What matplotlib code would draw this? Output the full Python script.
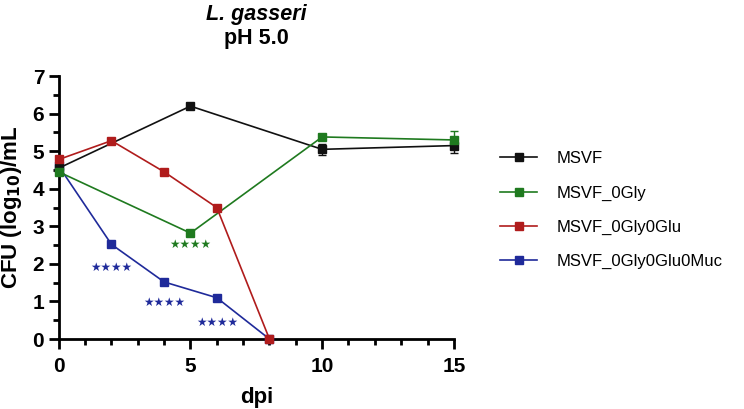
import matplotlib
matplotlib.use("Agg")
import matplotlib.pyplot as plt
from matplotlib.ticker import MultipleLocator
from matplotlib.lines import Line2D

plt.rcParams['font.family'] = ['Liberation Sans', 'DejaVu Sans']

# Data
msvf_x = [0, 5, 10, 15]
msvf_y = [4.55, 6.2, 5.05, 5.15]
msvf_err = [0.0, 0.05, 0.15, 0.2]

gly_x = [0, 5, 10, 15]
gly_y = [4.45, 2.82, 5.38, 5.3]
gly_err = [0.0, 0.05, 0.08, 0.25]

glu_x = [0, 2, 4, 6, 8]
glu_y = [4.78, 5.28, 4.45, 3.5, 0.0]

muc_x = [0, 2, 4, 6, 8]
muc_y = [4.6, 2.52, 1.52, 1.1, 0.0]

labels = ["MSVF", "MSVF_0Gly", "MSVF_0Gly0Glu", "MSVF_0Gly0Glu0Muc"]
colors = ["#111111", "#1f7a1f", "#b01c1c", "#1f2a9a"]

# significance annotations (x, y, color index)
sig_x = [5, 2, 4, 6]
sig_y = [2.52, 1.91, 0.98, 0.45]
sig_c = [1, 3, 3, 3]

fig = plt.figure(figsize=(7.44, 4.09), dpi=100)
ax = fig.add_axes([0.079, 0.171, 0.531, 0.643])

ms = 6
lw = 1.2
ax.errorbar(msvf_x, msvf_y, yerr=msvf_err, color=colors[0], marker='s', ms=ms, lw=lw,
            capsize=3, elinewidth=1, clip_on=False, zorder=3)
ax.errorbar(gly_x, gly_y, yerr=gly_err, color=colors[1], marker='s', ms=ms, lw=lw,
            capsize=3, elinewidth=1, clip_on=False, zorder=3)
ax.plot(glu_x, glu_y, color=colors[2], marker='s', ms=ms, lw=lw,
        clip_on=False, zorder=4)
ax.plot(muc_x, muc_y, color=colors[3], marker='s', ms=ms, lw=lw,
        clip_on=False, zorder=3)

for x, y, c in zip(sig_x, sig_y, sig_c):
    ax.text(x, y, "★★★★", color=colors[c], ha='center', va='center', fontsize=8.5,
            family='DejaVu Sans')

ax.set_xlim(0, 15)
ax.set_ylim(0, 7)
ax.xaxis.set_major_locator(MultipleLocator(5))
ax.xaxis.set_minor_locator(MultipleLocator(1))
ax.yaxis.set_major_locator(MultipleLocator(1))
ax.yaxis.set_minor_locator(MultipleLocator(0.5))
for s in ['top', 'right']:
    ax.spines[s].set_visible(False)
for s in ['left', 'bottom']:
    ax.spines[s].set_linewidth(2)
ax.tick_params(which='major', width=2, length=7, labelsize=15)
ax.tick_params(which='minor', width=2, length=4)
ax.tick_params(axis='x', pad=6)
for lab in ax.get_xticklabels() + ax.get_yticklabels():
    lab.set_fontweight('bold')

ax.set_xlabel("dpi", fontsize=16, fontweight='bold', labelpad=8)
ax.set_ylabel("CFU (log$_{\\mathbf{10}}$)/mL", fontsize=16, fontweight='bold', labelpad=6)

ax.text(0.5, 1.235, "L. gasseri", transform=ax.transAxes, ha='center', va='center',
        fontsize=15.5, fontweight='bold', style='italic')
ax.text(0.5, 1.144, "pH 5.0", transform=ax.transAxes, ha='center', va='center',
        fontsize=15.5, fontweight='bold')

handles = [Line2D([0], [0], color=c, marker='s', ms=ms, lw=lw) for c in colors]
leg = ax.legend(handles, labels, loc='center left', bbox_to_anchor=(1.08, 0.49),
                frameon=False, fontsize=12, handlelength=2.2, labelspacing=1.15,
                handletextpad=1.2)

fig.savefig("out.png", dpi=100)
